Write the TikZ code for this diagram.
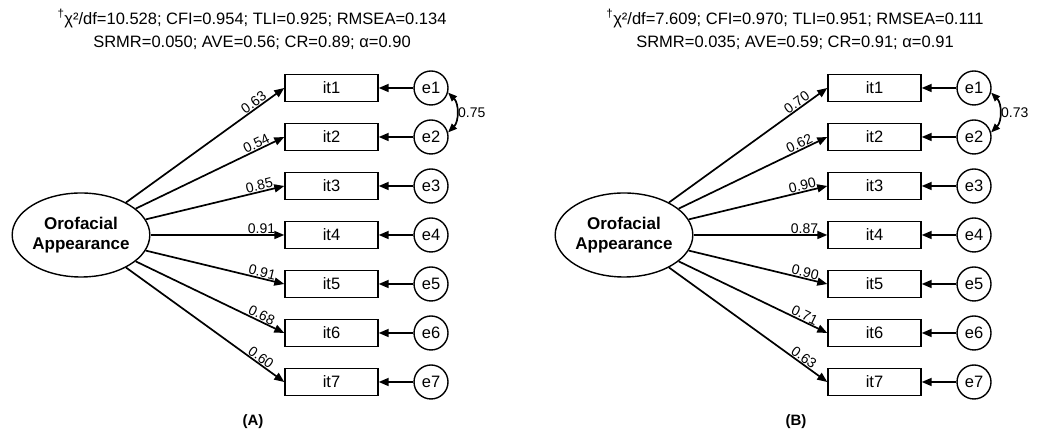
\documentclass[tikz,border=0pt]{standalone}
\usepackage{fontspec}
\setmainfont{Liberation Sans}
\usetikzlibrary{arrows.meta,shapes.geometric}
\tikzset{
  fitline/.style={align=center, font=\fontsize{16.5}{23}\selectfont},
  latent/.style={draw, ellipse, line width=1.4pt, minimum width=137pt, minimum height=84pt, inner sep=0pt, align=center, font=\fontsize{17}{20}\selectfont\bfseries},
  item/.style={draw, line width=1.4pt, minimum width=93pt, minimum height=27pt, inner sep=0pt, font=\fontsize{16.5}{18}\selectfont},
  errc/.style={draw, circle, line width=1.4pt, minimum size=34pt, inner sep=0pt, font=\fontsize{16.5}{18}\selectfont},
  load/.style={-{Triangle[length=10pt,width=8pt]}, line width=1.7pt},
  cov/.style={{Triangle[length=9pt,width=7pt]}-{Triangle[length=9pt,width=7pt]}, line width=1.7pt},
  loadlbl/.style={sloped, above, pos=0.83, inner sep=0.5pt, font=\fontsize{14}{16}\selectfont},
  covlbl/.style={right, inner sep=1pt, font=\fontsize{14}{16}\selectfont},
  panel/.style={font=\fontsize{15}{17}\selectfont\bfseries}
}

\begin{document}
\begin{tikzpicture}[x=1pt, y=1pt]
\useasboundingbox (0,0) rectangle (1037,433);

\node[fitline] (fitA) at (252,403.5) {\textsuperscript{†}χ²/df=10.528; CFI=0.954; TLI=0.925; RMSEA=0.134\\SRMR=0.050; AVE=0.56; CR=0.89; α=0.90};
\node[latent] (latA) at (81,198) {Orofacial\\Appearance};
\foreach \v [count=\i] in {0.63,0.54,0.85,0.91,0.91,0.68,0.60} {
  \node[item] (itA\i) at (331.5,{394-49*\i}) {it\i};
  \node[errc] (eA\i) at (431,{394-49*\i}) {e\i};
  \draw[load] (latA) -- (itA\i.west) node[loadlbl] {\v};
  \draw[load] (eA\i) -- (itA\i);
}
\draw[cov] (eA1.-15) to[bend left=45] node[covlbl] {0.75} (eA2.15);
\node[panel] (capA) at (253,11) {(A)};

\node[fitline] (fitB) at (795,403.5) {\textsuperscript{†}χ²/df=7.609; CFI=0.970; TLI=0.951; RMSEA=0.111\\SRMR=0.035; AVE=0.59; CR=0.91; α=0.91};
\node[latent] (latB) at (624,198) {Orofacial\\Appearance};
\foreach \v [count=\i] in {0.70,0.62,0.90,0.87,0.90,0.71,0.63} {
  \node[item] (itB\i) at (874.5,{394-49*\i}) {it\i};
  \node[errc] (eB\i) at (974,{394-49*\i}) {e\i};
  \draw[load] (latB) -- (itB\i.west) node[loadlbl] {\v};
  \draw[load] (eB\i) -- (itB\i);
}
\draw[cov] (eB1.-15) to[bend left=45] node[covlbl] {0.73} (eB2.15);
\node[panel] (capB) at (796,11) {(B)};
\end{tikzpicture}
\end{document}
